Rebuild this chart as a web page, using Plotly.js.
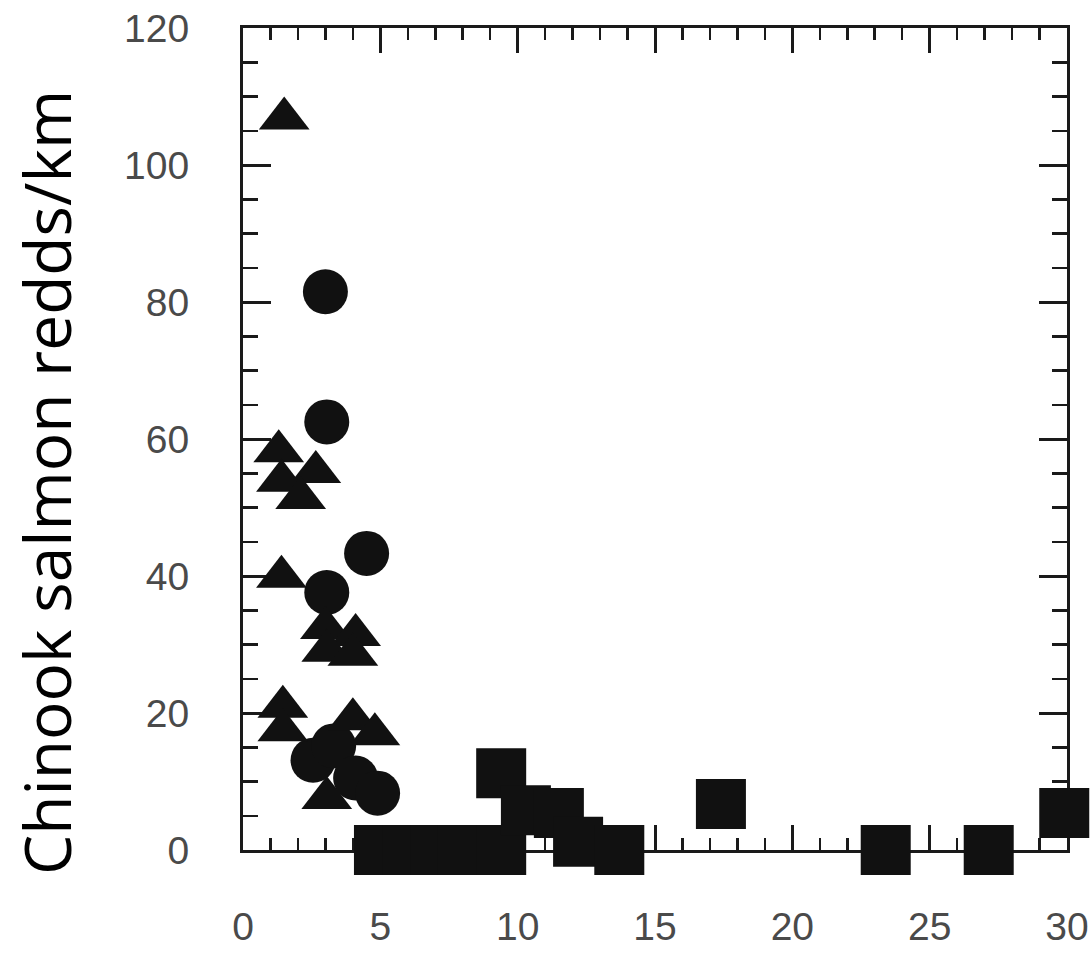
<!DOCTYPE html>
<html>
<head>
<meta charset="utf-8">
<script src="https://cdn.plot.ly/plotly-3.0.1.min.js"></script>
<style>html,body{margin:0;padding:0;background:#fff;}#chart{width:1090px;height:954px;}</style>
</head>
<body>
<div id="chart"></div>
<script>
// Triangles
var triX = [1.5, 1.3, 2.65, 1.4, 2.1, 1.4, 3.0, 4.1, 3.05, 4.0, 1.45, 1.45, 4.0, 4.8, 3.05];
var triY = [106.8, 58.2, 55.2, 53.9, 51.4, 39.9, 32.4, 31.4, 29.1, 28.5, 20.9, 17.5, 19.1, 16.9, 7.6];
// Circles
var circX = [3.0, 3.05, 4.5, 3.05, 2.55, 3.3, 4.1, 4.9];
var circY = [81.5, 62.5, 43.3, 37.6, 13.1, 15.2, 10.5, 8.3];
// Squares
var sqX = [4.95, 6.0, 7.0, 8.0, 9.4, 9.4, 10.3, 11.5, 12.2, 13.7, 17.4, 23.4, 27.15, 29.9];
var sqY = [0, 0, 0, 0, 0, 11.2, 5.8, 5.4, 1.2, 0, 6.7, 0, 0, 5.4];
var xTicks = [0, 5, 10, 15, 20, 25, 30];
var yTicks = [0, 20, 40, 60, 80, 100, 120];
var yTitle = "Chinook salmon redds/km";

var markColor = '#111111';
function tr(x, y, sym, size) {
  return {type: 'scatter', mode: 'markers', x: x, y: y, cliponaxis: false, showlegend: false,
    hoverinfo: 'skip',
    marker: {symbol: sym, size: size, color: markColor, line: {width: 0}}};
}
var data = [
  tr(sqX, sqY, 'square', 50),
  tr(circX, circY, 'circle', 45),
  tr(triX, triY, 'triangle-up', 44)
];
var axisCommon = {
  showgrid: false, zeroline: false, showline: true, linecolor: '#1a1a1a', linewidth: 3,
  mirror: 'allticks', ticks: 'inside', tickcolor: '#1a1a1a', tickwidth: 3,
  layer: 'below traces',
  tickfont: {family: 'Liberation Sans, Arial, sans-serif', size: 39, color: '#4a4a4a'}
};
var layout = {
  width: 1090, height: 954,
  margin: {l: 243, r: 23, t: 28, b: 104, pad: 0},
  paper_bgcolor: '#ffffff', plot_bgcolor: '#ffffff',
  xaxis: Object.assign({}, axisCommon, {
    range: [0, 30], tickmode: 'array', tickvals: xTicks, ticktext: xTicks.map(String),
    ticklen: 25, ticklabelstandoff: 40,
    minor: {dtick: 1, tick0: 0, ticks: 'inside', ticklen: 12, tickwidth: 2.5, tickcolor: '#1a1a1a', showgrid: false}
  }),
  yaxis: Object.assign({}, axisCommon, {
    range: [0, 120], tickmode: 'array', tickvals: yTicks, ticktext: yTicks.map(String),
    ticklen: 28, ticklabelstandoff: 43,
    minor: {dtick: 5, tick0: 0, ticks: 'inside', ticklen: 15, tickwidth: 2.5, tickcolor: '#1a1a1a', showgrid: false}
  }),
  annotations: [{
    text: yTitle, xref: 'paper', yref: 'paper',
    x: (47 - 243) / 824, y: (850 - 483) / 822, xanchor: 'center', yanchor: 'middle',
    textangle: -90, showarrow: false,
    font: {family: 'Open Sans, Noto Sans, sans-serif', size: 64, color: '#000000'}
  }]
};
Plotly.newPlot('chart', data, layout, {displayModeBar: false, staticPlot: true});
</script>
</body>
</html>
